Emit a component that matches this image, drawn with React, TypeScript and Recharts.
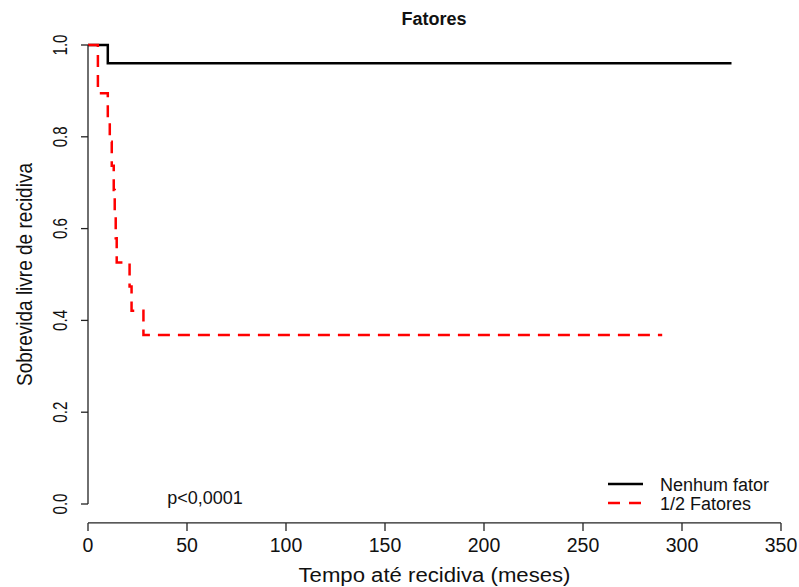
import React from 'react'
import {
  LineChart,
  Line,
  XAxis,
  YAxis,
  ReferenceLine,
  ReferenceDot,
  Legend,
} from 'recharts'

// Kaplan-Meier steps (months, survival)
const nenhumTimes = [0, 10, 325]
const nenhumSurv = [1, 0.96, 0.96]

const fatoresTimes = [0, 5, 10, 11, 12, 13, 13.5, 14, 14.5, 21, 22, 28, 290]
const fatoresSurv = [1, 0.895, 0.842, 0.789, 0.737, 0.684, 0.632, 0.579, 0.526, 0.474, 0.421, 0.368, 0.368]

const xTicks = [0, 50, 100, 150, 200, 250, 300, 350]
const yTicks = [0, 0.2, 0.4, 0.6, 0.8, 1]

const seriesNames = ['Nenhum fator', '1/2 Fatores']
const seriesColors = ['#000000', '#ff0000']
const seriesDash = ['', '12 8']

const pValue = 'p<0,0001'

const toRows = (ts: number[], ss: number[]) => ts.map((t, i) => ({ t, s: ss[i] }))
const nenhumData = toRows(nenhumTimes, nenhumSurv)
const fatoresData = toRows(fatoresTimes, fatoresSurv)

const FONT = '"Liberation Sans", Arial, sans-serif'
const AXIS = '#222'

function XTick({ x, y, payload }: any) {
  return (
    <g>
      <line x1={x} x2={x} y1={y + 19} y2={y + 27} stroke={AXIS} strokeWidth={1.3} />
      <text x={x} y={y + 48} textAnchor="middle" fontSize={19.5} fontFamily={FONT} fill="#111">
        {payload.value}
      </text>
    </g>
  )
}

function YTick({ x, y, payload }: any) {
  const tx = x - 14
  return (
    <text
      x={tx}
      y={y}
      transform={`rotate(-90 ${tx} ${y})`}
      textAnchor="middle"
      fontSize={20}
      textLength={21}
      lengthAdjust="spacingAndGlyphs"
      fontFamily={FONT}
      fill="#111"
    >
      {Number(payload.value).toFixed(1)}
    </text>
  )
}

function KmLegend() {
  return (
    <svg width={190} height={48}>
      {seriesNames.map((name, i) => (
        <g key={name}>
          <line
            x1={8}
            x2={43}
            y1={14 + i * 19}
            y2={14 + i * 19}
            stroke={seriesColors[i]}
            strokeWidth={2.5}
            strokeDasharray={seriesDash[i] ? '12 9' : undefined}
          />
          <text x={60} y={21 + i * 19} fontSize={18} fontFamily={FONT} fill="#111">
            {name}
          </text>
        </g>
      ))}
    </svg>
  )
}

export default function App() {
  return (
    <div style={{ position: 'absolute', left: 0, top: 0, background: '#fff' }}>
      <LineChart width={799} height={587} margin={{ top: 45, right: 18, left: 0, bottom: 0 }}>
        <XAxis
          type="number"
          dataKey="t"
          domain={[0, 350]}
          ticks={xTicks}
          interval={0}
          axisLine={false}
          tickLine={false}
          tickSize={0}
          tickMargin={0}
          height={83}
          tick={<XTick />}
          allowDuplicatedCategory={false}
          label={{
            content: ({ viewBox }: any) => (
              <text
                x={viewBox.x + viewBox.width / 2}
                y={viewBox.y + 78}
                textAnchor="middle"
                fontSize={20}
                textLength={272}
                lengthAdjust="spacingAndGlyphs"
                fontFamily={FONT}
                fill="#111"
              >
                Tempo até recidiva (meses)
              </text>
            ),
          }}
        />
        <YAxis
          type="number"
          domain={[0, 1]}
          ticks={yTicks}
          interval={0}
          width={88}
          tickSize={7}
          tickMargin={0}
          axisLine={{ stroke: AXIS, strokeWidth: 1.3 }}
          tickLine={{ stroke: AXIS, strokeWidth: 1.3 }}
          tick={<YTick />}
          label={{
            content: ({ viewBox }: any) => {
              const cx = viewBox.x + 32
              const cy = viewBox.y + viewBox.height / 2
              return (
                <text
                  x={cx}
                  y={cy}
                  transform={`rotate(-90 ${cx} ${cy})`}
                  textAnchor="middle"
                  fontSize={22}
                  textLength={223}
                  lengthAdjust="spacingAndGlyphs"
                  fontFamily={FONT}
                  fill="#111"
                >
                  Sobrevida livre de recidiva
                </text>
              )
            },
          }}
        />
        {/* detached x axis line, R style */}
        <ReferenceLine
          segment={[
            { x: 0, y: -0.041 },
            { x: 350, y: -0.041 },
          ]}
          stroke={AXIS}
          strokeWidth={1.3}
          ifOverflow="visible"
        />
        <Line
          data={nenhumData}
          dataKey="s"
          name={seriesNames[0]}
          type="stepAfter"
          stroke={seriesColors[0]}
          strokeWidth={2.5}
          dot={false}
          activeDot={false}
          isAnimationActive={false}
        />
        <Line
          data={fatoresData}
          dataKey="s"
          name={seriesNames[1]}
          type="stepAfter"
          stroke={seriesColors[1]}
          strokeWidth={2.5}
          strokeDasharray={seriesDash[1]}
          dot={false}
          activeDot={false}
          isAnimationActive={false}
        />
        <ReferenceDot
          x={40}
          y={0}
          r={0}
          fill="none"
          stroke="none"
          label={{
            content: ({ viewBox }: any) => (
              <text x={viewBox.x} y={viewBox.y} fontSize={18} fontFamily={FONT} fill="#111">
                {pValue}
              </text>
            ),
          }}
        />
        <text x={434} y={25} textAnchor="middle" fontSize={18} fontWeight="bold" fontFamily={FONT} fill="#111">
          Fatores
        </text>
        <Legend
          layout="horizontal"
          verticalAlign="middle"
          align="center"
          content={<KmLegend />}
          wrapperStyle={{ position: 'absolute', left: 600, top: 470, width: 190, height: 48 }}
        />
      </LineChart>
    </div>
  )
}
